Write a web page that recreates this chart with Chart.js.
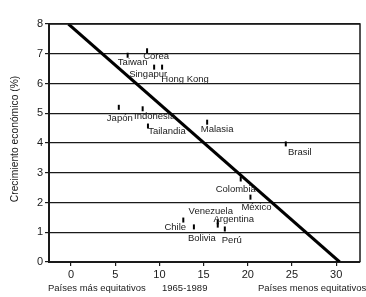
<!DOCTYPE html>
<html>
<head>
<meta charset="utf-8">
<script src="https://cdn.jsdelivr.net/npm/chart.js@4.4.1/dist/chart.umd.min.js"></script>
<style>
  html, body { margin: 0; padding: 0; background: #fff; }
  #wrap { width: 366px; height: 297px; position: relative; }
</style>
</head>
<body>
<div id="wrap"><canvas id="grafico"></canvas></div>
<script>
// datos (desigualdad vs crecimiento 1965-1989)
var paises = ["Taiwan", "Corea", "Singapur", "Hong Kong", "Japón", "Indonesia", "Tailandia", "Malasia",
              "Brasil", "Colombia", "México", "Venezuela", "Argentina", "Chile", "Bolivia", "Perú"];
var desigualdad = [6.4, 8.6, 9.4, 10.3, 5.4, 8.1, 8.7, 15.4, 24.3, 19.2, 20.3, 16.6, 16.6, 12.7, 13.9, 17.4];
var crecimiento = [6.95, 7.1, 6.55, 6.55, 5.2, 5.15, 4.57, 4.7, 3.97, 2.79, 2.18, 1.35, 1.24, 1.41, 1.18, 1.11];
var tendenciaX = [-0.3, 30.4];
var tendenciaY = [8, 0];
var ticksX = [0, 5, 10, 15, 20, 25, 30];
var ticksY = [0, 1, 2, 3, 4, 5, 6, 7, 8];

// desplazamiento de cada etiqueta respecto a su marca (px)
var desplaz = [[5, 7], [9, 6], [-6, 7], [23, 12], [1, 11], [12, 8], [19, 5], [10, 7],
               [14, 8], [-5, 10], [6, 10], [-7, -10], [16, -6], [-8, 7], [8, 11], [7, 11]];

var fuente = "'Liberation Sans', Arial, sans-serif";
var tinta = "#1a1a1a";

var puntos = desigualdad.map(function (x, i) { return { x: x, y: crecimiento[i] }; });
var linea = tendenciaX.map(function (x, i) { return { x: x, y: tendenciaY[i] }; });

var pluginTextos = {
    id: "textos",
    afterDatasetsDraw: function (chart) {
        var ctx = chart.ctx;
        var a = chart.chartArea;
        ctx.save();
        // marco derecho y superior
        ctx.strokeStyle = tinta;
        ctx.lineWidth = 1.5;
        ctx.beginPath();
        ctx.moveTo(a.left, a.top);
        ctx.lineTo(a.right, a.top);
        ctx.lineTo(a.right, a.bottom);
        ctx.stroke();

        // nombres de paises
        var meta = chart.getDatasetMeta(1);
        ctx.fillStyle = tinta;
        ctx.font = "9.5px " + fuente;
        ctx.textAlign = "center";
        ctx.textBaseline = "middle";
        meta.data.forEach(function (p, i) {
            ctx.fillText(paises[i], p.x + desplaz[i][0], p.y + desplaz[i][1]);
        });

        // textos bajo el eje x
        ctx.textAlign = "left";
        ctx.fillText("Países más equitativos", 48, 288);
        ctx.fillText("1965-1989", 162, 288);
        ctx.fillText("Países menos equitativos", 258, 288);

        // titulo del eje y
        ctx.translate(15, 139);
        ctx.rotate(-Math.PI / 2);
        ctx.textAlign = "center";
        ctx.font = "10.3px " + fuente;
        ctx.fillText("Crecimiento económico (%)", 0, 0);
        ctx.restore();
    }
};

new Chart(document.getElementById("grafico"), {
    type: "scatter",
    data: {
        datasets: [{
            type: "line",
            data: linea,
            borderColor: "#000",
            borderWidth: 3,
            pointRadius: 0,
            fill: false
        }, {
            data: puntos,
            pointStyle: "line",
            rotation: 90,
            radius: 2.5,
            borderWidth: 2,
            borderColor: "#000",
            backgroundColor: "#000"
        }]
    },
    plugins: [pluginTextos],
    options: {
        responsive: true,
        maintainAspectRatio: false,
        animation: false,
        layout: { padding: { top: 24, right: 3, left: 0, bottom: 0 } },
        plugins: {
            legend: { display: false },
            tooltip: { enabled: false }
        },
        scales: {
            x: {
                type: "linear",
                min: -2.5,
                max: 32.7,
                afterBuildTicks: function (s) { s.ticks = ticksX.map(function (v) { return { value: v }; }); },
                afterFit: function (s) { s.height = 35; },
                grid: { drawOnChartArea: false, color: tinta, tickLength: 4, lineWidth: 1.2 },
                border: { color: tinta, width: 2 },
                ticks: { color: tinta, font: { family: fuente, size: 11 }, padding: 2 }
            },
            y: {
                min: 0,
                max: 8,
                afterBuildTicks: function (s) { s.ticks = ticksY.map(function (v) { return { value: v }; }); },
                afterFit: function (s) { s.width = 49; },
                grid: { color: tinta, lineWidth: 1.2, tickLength: 4 },
                border: { color: tinta, width: 2 },
                ticks: { color: tinta, font: { family: fuente, size: 11 }, padding: 2 }
            }
        }
    }
});
</script>
</body>
</html>
